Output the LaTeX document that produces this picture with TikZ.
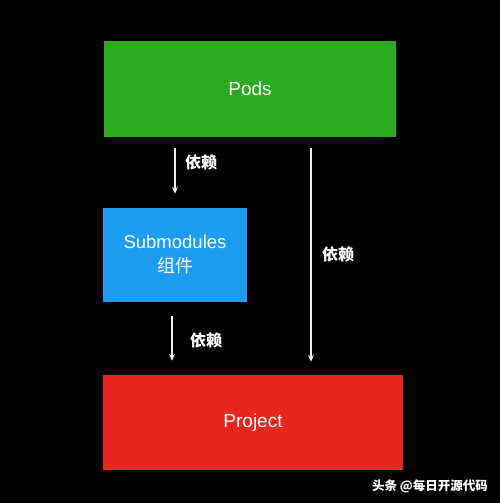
\documentclass[tikz,border=0pt]{standalone}
\usepackage{fontspec}
\setmainfont{Liberation Sans}
\newfontfamily\cjk{Noto Sans CJK SC}
\usetikzlibrary{arrows.meta}
\definecolor{podgreen}{HTML}{2BAA22}
\definecolor{subblue}{HTML}{1E9CF2}
\definecolor{projred}{HTML}{E6261F}
\definecolor{arrgray}{HTML}{EDEDED}
\begin{document}
\begin{tikzpicture}[x=1pt,y=-1pt,
  box/.style={rectangle, inner sep=0pt, text=white, font=\fontsize{19}{22}\selectfont, align=center},
  arr/.style={draw=arrgray, line width=1.1pt, -{Stealth[length=7pt,width=6pt]}},
  dep/.style={text=white, font=\cjk\bfseries\fontsize{16}{18}\selectfont, inner sep=0pt}]
\fill[black] (0,0) rectangle (500,503);
\useasboundingbox (0,0) rectangle (500,503);
\node[box, fill=podgreen, minimum width=292pt, minimum height=95pt] (pods) at (250,89) {Pods};
\node[box, fill=subblue, minimum width=144pt, minimum height=94pt, font=\fontsize{18.5}{22}\selectfont] (sub) at (175,255) {Submodules\\[2pt]{\cjk\fontsize{18}{22}\selectfont 组件}};
\node[box, fill=projred, minimum width=300pt, minimum height=95pt] (proj) at (253,422.5) {Project};
\draw[arr, shorten <=11.5pt, shorten >=14pt] (pods.south -| sub.north) -- (sub.north);
\draw[arr, shorten <=14pt, shorten >=14pt] ([xshift=-3pt]sub.south) -- ([xshift=-3pt]sub.south |- proj.north);
\draw[arr, shorten <=11.5pt, shorten >=13pt] ([xshift=61pt]pods.south) -- ([xshift=61pt]pods.south |- proj.north);
\node[dep] (l1) at (201,162) {依赖};
\node[dep] (l2) at (206,340) {依赖};
\node[dep] (l3) at (338,254) {依赖};
\node[text=white, font=\cjk\bfseries\fontsize{12.5}{14}\selectfont, inner sep=0pt] (wm) at (430,486) {头条 @每日开源代码};
\end{tikzpicture}
\end{document}
